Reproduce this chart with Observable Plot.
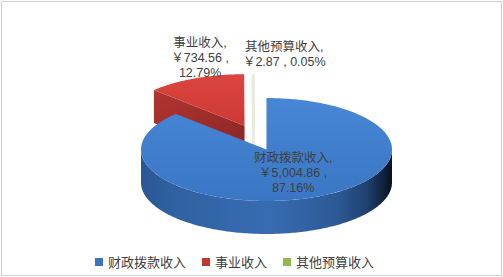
<!DOCTYPE html>
<html>
<head>
<meta charset="utf-8">
<script src="https://cdn.jsdelivr.net/npm/d3@7"></script>
<script src="https://cdn.jsdelivr.net/npm/@observablehq/plot@0.6"></script>
<style>
  html, body { margin: 0; padding: 0; background: #fff; }
  #wrap { position: relative; width: 503px; height: 277px; background: #fff; overflow: hidden; }
  #frame { position: absolute; left: 1px; top: 1px; width: 499px; height: 273px; border: 1px solid #cfcfcf; pointer-events: none; }
  #legend { position: absolute; left: 95px; top: 254px; display: flex; align-items: center; gap: 16px;
            font-family: "Noto Sans CJK SC", sans-serif; font-size: 13px; color: #404040; line-height: 16px; }
  .item { display: flex; align-items: center; gap: 5px; }
  .sw { width: 8px; height: 8px; display: inline-block; }
</style>
</head>
<body>
<div id="wrap">
  <div id="chart"></div>
  <div id="legend"></div>
  <div id="frame"></div>
</div>
<script>
// ---- data ----
const categories = ["财政拨款收入", "事业收入", "其他预算收入"];
const values = [5004.86, 734.56, 2.87];
const legendColors = ["#3c74c0", "#c0392f", "#93b552"];

// ---- style / geometry ----
const PX = 125.5;            // pixels per unit radius
const CX = 266, CY = 149;     // pie center in pixels
const W = 503, H = 248;
const RY = 0.41;              // ellipse flattening
const D = 0.263;              // depth of the pie
const explode = [[0, 0], [-0.175, -0.19], [-0.104, -0.179]];
const drawOrder = [1, 2, 0];

const total = d3.sum(values);
const arcs = d3.pie().sort(null).startAngle(0).endAngle(2 * Math.PI)(values);
const slices = arcs.map((a, i) => ({i, a0: a.startAngle, a1: a.endAngle, ox: explode[i][0], oy: explode[i][1]}));

function pt(s, a, r, z) {
  return {x: s.ox + r * Math.sin(a), y: s.oy - r * RY * Math.cos(a) + z * D};
}
function arcPts(s, a0, a1, z) {
  const n = Math.max(2, Math.ceil(Math.abs(a1 - a0) / (Math.PI / 180)) + 1);
  return d3.range(n).map(k => pt(s, a0 + (a1 - a0) * k / (n - 1), 1, z));
}

const faces = [];
for (const idx of drawOrder) {
  const s = slices[idx];
  const lo = Math.max(s.a0, Math.PI / 2), hi = Math.min(s.a1, 3 * Math.PI / 2);
  if (hi > lo) faces.push({i: idx, kind: "wall", pts: arcPts(s, lo, hi, 0).concat(arcPts(s, hi, lo, 1))});
  if (Math.sin(s.a0) < -1e-9) faces.push({i: idx, kind: "cut", pts: [pt(s, s.a0, 0, 0), pt(s, s.a0, 1, 0), pt(s, s.a0, 1, 1), pt(s, s.a0, 0, 1)]});
  if (Math.sin(s.a1) > 1e-9) faces.push({i: idx, kind: "cut", pts: [pt(s, s.a1, 0, 0), pt(s, s.a1, 1, 0), pt(s, s.a1, 1, 1), pt(s, s.a1, 0, 1)]});
  faces.push({i: idx, kind: "top", pts: [pt(s, s.a0, 0, 0)].concat(arcPts(s, s.a0, s.a1, 0))});
}

const fills = [
  {wall: "url(#blueSide)", cut: "#2a5a9a", top: "url(#blueTop)"},
  {wall: "#9c2b28", cut: "url(#redCut)", top: "url(#redTop)"},
  {wall: "#e6ecd8", cut: "#e6ecd8", top: "#e9eedc"}
];

const faceMarks = faces.map(f => Plot.line(f.pts, {
  x: "x", y: "y", curve: "linear-closed",
  fill: fills[f.i][f.kind],
  stroke: f.i === 2 ? "#e6ecd8" : "none",
  strokeWidth: f.i === 2 ? 2.6 : 0
}));

// labels
const fmtV = d3.format(",.2f");
const fmtP = d3.format(".2%");
const labelInfo = [
  {r: 0.48, dx: 3, dy: 0, text: `${categories[0]},\n￥${fmtV(values[0])} ,\n${fmtP(values[0] / total)}`},
  {r: 1.0, dx: 5, dy: -21, text: `${categories[1]},\n￥${fmtV(values[1])} ,\n${fmtP(values[1] / total)}`},
  {r: 1.0, dx: 31, dy: -21.5, text: `${categories[2]},\n￥${fmtV(values[2])} , ${fmtP(values[2] / total)}`}
];
const labelMarks = slices.map((s, i) => {
  const mid = (s.a0 + s.a1) / 2;
  const p = pt(s, mid, labelInfo[i].r, 0);
  return Plot.text([{x: p.x, y: p.y, t: labelInfo[i].text}], {
    x: "x", y: "y", text: "t", dx: labelInfo[i].dx, dy: labelInfo[i].dy,
    textAnchor: "middle", lineAnchor: "middle", lineHeight: 1.2,
    fontSize: 12.5, fill: "#404040", fontFamily: "'Liberation Sans', 'Noto Sans CJK SC', sans-serif"
  });
});

const svg = Plot.plot({
  width: W, height: H,
  margin: 0,
  x: {domain: [-CX / PX, (W - CX) / PX], range: [0, W], axis: null},
  y: {domain: [-CY / PX, (H - CY) / PX], range: [0, H], axis: null},
  style: {background: "transparent", overflow: "visible"},
  marks: [...faceMarks, ...labelMarks]
});

svg.insertAdjacentHTML("afterbegin", `
<defs>
  <linearGradient id="blueSide" x1="0" y1="0" x2="1" y2="0">
    <stop offset="0" stop-color="#2a5793"/>
    <stop offset="0.12" stop-color="#2f60a1"/>
    <stop offset="0.5" stop-color="#386cb2"/>
    <stop offset="0.78" stop-color="#2d5a96"/>
    <stop offset="0.9" stop-color="#1f4170"/>
    <stop offset="0.97" stop-color="#0f2038"/>
    <stop offset="1" stop-color="#08111e"/>
  </linearGradient>
  <linearGradient id="blueTop" x1="0" y1="0" x2="0" y2="1">
    <stop offset="0" stop-color="#4787d6"/>
    <stop offset="1" stop-color="#3a76c3"/>
  </linearGradient>
  <linearGradient id="redTop" x1="0" y1="0" x2="0" y2="1">
    <stop offset="0" stop-color="#dc4540"/>
    <stop offset="1" stop-color="#cc3934"/>
  </linearGradient>
  <linearGradient id="redCut" x1="0" y1="0" x2="1" y2="1">
    <stop offset="0" stop-color="#b03531"/>
    <stop offset="1" stop-color="#8a2523"/>
  </linearGradient>
</defs>`);

document.getElementById("chart").appendChild(svg);

// legend
const legend = d3.select("#legend");
categories.forEach((c, i) => {
  const item = legend.append("div").attr("class", "item");
  item.append("span").attr("class", "sw").style("background", legendColors[i]);
  item.append("span").text(c);
});
</script>
</body>
</html>
